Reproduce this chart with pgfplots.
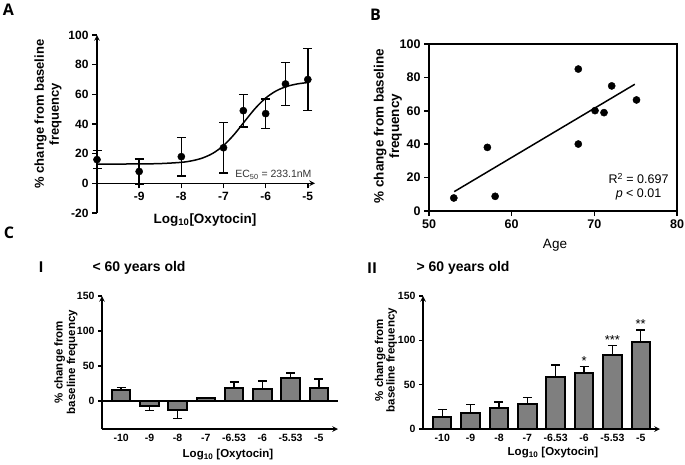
\documentclass[border=0pt]{standalone}
\usepackage{pgfplots}
\pgfplotsset{compat=1.18}
\usepackage{fontspec}
\setmainfont{Liberation Sans}
\newfontfamily\panelfont{Open Sans}
\newcommand{\fs}[1]{\fontsize{#1}{#1}\selectfont}
\definecolor{bargray}{HTML}{7F7F7F}
\pgfplotsset{prism/.style={scale only axis, clip=false,
  axis line style={line width=1.5pt,-}, tick style={line width=1.5pt, black},
  major tick length=5pt, /pgf/number format/assume math mode=true}}
\begin{document}
\begin{tikzpicture}
\useasboundingbox (0,0) rectangle (685pt,-464pt);
% ---------------- Panel A
\begin{axis}[prism, at={(97pt,-213pt)}, anchor=south west, width=218pt, height=178pt,
  xmin=-10, xmax=-4.83, ymin=-20, ymax=100,
  axis y line=left, axis x line=middle,
  xtick={-9,-8,-7,-6,-5}, ytick={-20,0,20,40,60,80,100},
  xtick align=outside, ytick align=outside,
  tick label style={font=\bfseries\fs{12}}]
\addplot[black, line width=1.5pt, smooth] coordinates {
(-10,13.01) (-9.5,13.02) (-9,13.09) (-8.5,13.32) (-8,14.17) (-7.75,15.19)
(-7.5,17.06) (-7.25,20.29) (-7,25.48) (-6.75,32.86) (-6.5,41.73) (-6.25,50.45)
(-6,57.50) (-5.75,62.34) (-5.5,65.32) (-5.25,67.02) (-5,67.95)};
\addplot[black, only marks, mark=*, mark size=3.6pt,
  error bars/.cd, y dir=both, y explicit,
  error bar style={line width=1.5pt, black},
  error mark options={rotate=90, mark size=4.5pt, line width=1.5pt, black}]
coordinates {
(-10,16) +- (0,6)
(-9,8) +- (0,8.5)
(-8,18) +- (0,13)
(-7,24) +- (0,17)
(-6.53,49) +- (0,11)
(-6,47) +- (0,10)
(-5.53,67) +- (0,14.5)
(-5,70) +- (0,21)};
\node[anchor=east, text=black!80, font=\fs{10.5}] at (axis cs:-4.83,5.5) {EC\textsubscript{50} = 233.1nM};
\end{axis}
\node[font=\bfseries\fs{13}, rotate=90, align=center] at (48pt,-114pt) {\% change from baseline\\[2pt]frequency};
\node[font=\bfseries\fs{13.5}] at (205pt,-220pt) {Log\textsubscript{10}[Oxytocin]};
\node[font=\panelfont\bfseries\fs{16}] at (8.5pt,-10pt) {A};
% ---------------- Panel B
\begin{axis}[prism, at={(429pt,-211pt)}, anchor=south west, width=248pt, height=167pt,
  xmin=50, xmax=80, ymin=0, ymax=100,
  xtick={50,60,70,80}, ytick={0,20,40,60,80,100},
  tick align=outside, xtick pos=bottom, ytick pos=left,
  tick label style={font=\bfseries\fs{12.5}}]
\addplot[black, line width=1.5pt] coordinates {(53.05,11.6) (74.9,75.9)};
\addplot[black, only marks, mark=*, mark size=3.6pt] coordinates {
(53.0,7.8) (57.06,38.1) (58.0,8.8) (68.06,85.0) (68.06,40.1)
(70.08,60.1) (71.17,58.9) (72.1,74.9) (75.1,66.5)};
\node[align=center, font=\fs{12.5}] at (axis cs:75.35,14.5) {R\textsuperscript{2} = 0.697\\[1pt]\textit{p} < 0.01};
\end{axis}
\node[font=\bfseries\fs{13.5}, rotate=90, align=center] at (388pt,-126pt) {\% change from baseline\\[2pt]frequency};
\node[font=\fs{13.5}] at (555pt,-245pt) {Age};
\node[font=\panelfont\bfseries\fs{16}] at (375.5pt,-15pt) {B};
% ---------------- Panel C
\node[font=\panelfont\bfseries\fs{16}] at (9pt,-232.5pt) {C};
\node[font=\panelfont\bfseries\fs{15}] at (41pt,-267pt) {I};
\node[font=\bfseries\fs{14}, anchor=west] at (89pt,-268pt) {< 60 years old};
\node[font=\panelfont\bfseries\fs{15}] at (372pt,-268pt) {II};
\node[font=\bfseries\fs{14}, anchor=west] at (413pt,-268pt) {> 60 years old};
% C-I
\begin{axis}[prism, at={(102pt,-429pt)}, anchor=south west, width=236pt, height=133pt,
  xmin=-0.68, xmax=7.68, ymin=-40, ymax=150,
  axis x line=bottom, axis y line=left,
  ytick={0,50,100,150}, xtick={0,...,7},
  xticklabels={-10,-9,-8,-7,-6.53,-6,-5.53,-5},
  x tick style={draw=none}, ytick align=outside, major tick length=4pt,
  tick label style={font=\bfseries\fs{10.5}}]
\addplot[black, line width=1.5pt] coordinates {(-0.68,0) (7.68,0)};
\addplot[ybar, bar width=0.65, bar shift=0pt, fill=bargray, draw=black, line width=2pt,
  error bars/.cd, y dir=both, y explicit,
  error bar style={line width=1.5pt, black},
  error mark options={rotate=90, mark size=4.5pt, line width=1.5pt, black}]
coordinates {
(0,16.1) += (0,2.9) -= (0,0)
(1,-7.6) += (0,0) -= (0,6.2)
(2,-12.8) += (0,0) -= (0,12.4)
(3,3.8) += (0,1.4) -= (0,0)
(4,18) += (0,9.5) -= (0,0)
(5,17.6) += (0,10.9) -= (0,0)
(6,32.3) += (0,8) -= (0,0)
(7,18) += (0,13.3) -= (0,0)};
\end{axis}
\node[font=\bfseries\fs{11.5}, rotate=90, align=center] at (66pt,-362pt) {\% change from\\[1pt]baseline frequency};
\node[font=\bfseries\fs{11.5}] at (228pt,-455pt) {Log\textsubscript{10} [Oxytocin]};
% C-II
\begin{axis}[prism, at={(423pt,-429pt)}, anchor=south west, width=237pt, height=133pt,
  xmin=-0.68, xmax=7.68, ymin=0, ymax=150,
  axis x line=bottom, axis y line=left,
  ytick={0,50,100,150}, xtick={0,...,7},
  xticklabels={-10,-9,-8,-7,-6.53,-6,-5.53,-5},
  x tick style={draw=none}, ytick align=outside, major tick length=4pt,
  tick label style={font=\bfseries\fs{10.5}}]
\addplot[ybar, bar width=0.65, bar shift=0pt, fill=bargray, draw=black, line width=2pt,
  error bars/.cd, y dir=plus, y explicit,
  error bar style={line width=1.5pt, black},
  error mark options={rotate=90, mark size=4.5pt, line width=1.5pt, black}]
coordinates {
(0,13.2) +- (0,9)
(1,17.7) +- (0,10.1)
(2,24) +- (0,6.5)
(3,27.8) +- (0,7.5)
(4,58.3) +- (0,13.9)
(5,63.2) +- (0,7.1)
(6,83) +- (0,11)
(7,98.1) +- (0,13.6)};
\node[font=\fs{13}] at (axis cs:5,77) {*};
\node[font=\fs{13}] at (axis cs:6,100.5) {***};
\node[font=\fs{13}] at (axis cs:7,118.5) {**};
\end{axis}
\node[font=\bfseries\fs{11.5}, rotate=90, align=center] at (386pt,-360pt) {\% change from\\[0pt]baseline frequency};
\node[font=\bfseries\fs{11.5}] at (553pt,-453pt) {Log\textsubscript{10} [Oxytocin]};
\end{tikzpicture}
\end{document}
